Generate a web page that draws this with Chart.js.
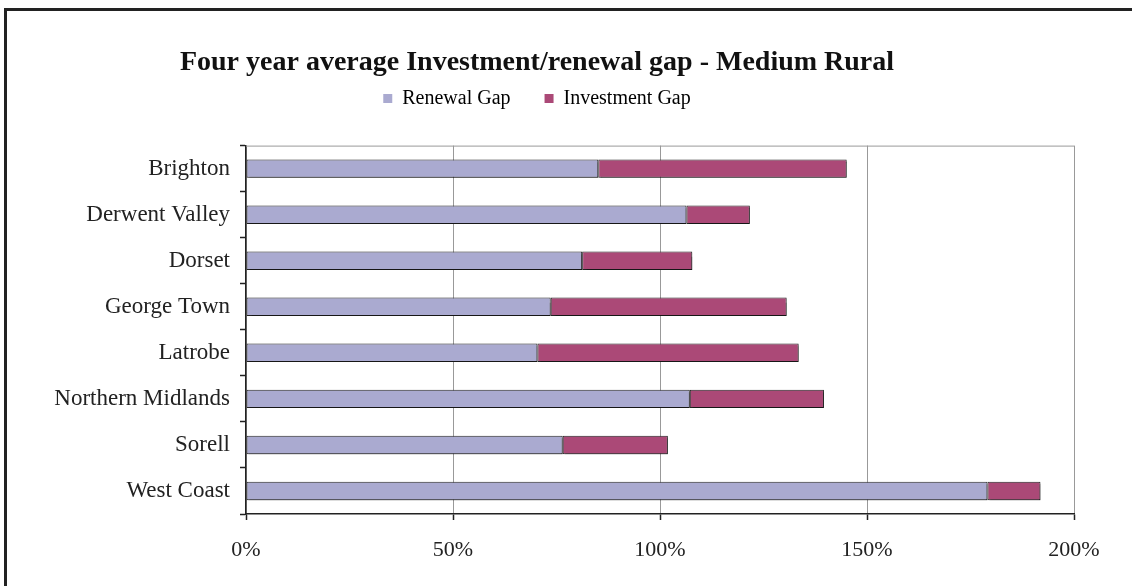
<!DOCTYPE html>
<html>
<head>
<meta charset="utf-8">
<script src="https://cdn.jsdelivr.net/npm/chart.js@4/dist/chart.umd.min.js"></script>
<style>
  html, body { margin: 0; padding: 0; background: #fff; overflow: hidden; }
  #frame { position: absolute; left: 4px; top: 8px; width: 1140px; height: 600px; border: 3px solid #222; box-sizing: border-box; }
  #wrap { position: absolute; left: 0; top: 0; width: 1132px; height: 586px; }
</style>
</head>
<body>
<div id="frame"></div>
<div id="wrap"><canvas id="gapChart"></canvas></div>
<script>
// councils, top to bottom
const councils = ['Brighton', 'Derwent Valley', 'Dorset', 'George Town', 'Latrobe', 'Northern Midlands', 'Sorell', 'West Coast'];
// four year averages, % of depreciation
const renewalGap = [85.1, 106.4, 81.2, 73.6, 70.4, 107.2, 76.5, 179.1];
const investmentGap = [60.0, 15.3, 26.6, 57.0, 63.1, 32.4, 25.4, 12.8];
const xTicks = [0, 50, 100, 150, 200];

const SERIF = '"Liberation Serif", "Times New Roman", serif';
const INK = '#222';

// grey top edge of the plot area + soft drop shadow under the bars
const plotDecor = {
  id: 'plotDecor',
  beforeInit(chart) {
    // leave a gap between the legend row and the plot
    const lg = chart.legend;
    if (lg) {
      const fit = lg.fit;
      lg.fit = function () { fit.call(this); this.height += 27; };
    }
  },
  beforeDatasetsDraw(chart) {
    const { ctx, chartArea: a } = chart;
    ctx.save();
    ctx.strokeStyle = '#999';
    ctx.lineWidth = 1;
    ctx.beginPath();
    ctx.moveTo(a.left, a.top + 0.5);
    ctx.lineTo(a.right, a.top + 0.5);
    ctx.stroke();
    ctx.restore();
    ctx.save();
    ctx.shadowColor = 'rgba(0,0,0,0.35)';
    ctx.shadowOffsetX = 2;
    ctx.shadowOffsetY = 2;
    ctx.shadowBlur = 1;
  },
  afterDatasetsDraw(chart) {
    chart.ctx.restore();
  }
};

new Chart(document.getElementById('gapChart'), {
  type: 'bar',
  data: {
    labels: councils,
    datasets: [
      { label: 'Renewal Gap', data: renewalGap, backgroundColor: '#AAAAD0', borderColor: INK, borderWidth: 1, borderSkipped: false },
      { label: 'Investment Gap', data: investmentGap, backgroundColor: '#AB4977', borderColor: INK, borderWidth: 1, borderSkipped: false }
    ]
  },
  options: {
    indexAxis: 'y',
    responsive: true,
    maintainAspectRatio: false,
    animation: false,
    barPercentage: 0.4,
    categoryPercentage: 1,
    layout: { padding: { top: 46, left: 0, right: 58, bottom: 0 } },
    plugins: {
      title: {
        display: true,
        text: 'Four year average Investment/renewal gap - Medium Rural',
        color: '#111',
        font: { family: SERIF, size: 28, weight: 'bold' },
        padding: { top: 0, bottom: -25 }
      },
      legend: {
        display: true,
        position: 'top',
        labels: {
          color: INK,
          font: { family: SERIF, size: 20 },
          boxWidth: 9,
          boxHeight: 9,
          padding: 34,
          generateLabels(chart) {
            return chart.data.datasets.map((d, i) => ({
              text: d.label,
              fillStyle: d.backgroundColor,
              strokeStyle: d.backgroundColor,
              lineWidth: 0,
              datasetIndex: i
            }));
          }
        }
      },
      tooltip: { enabled: false }
    },
    scales: {
      x: {
        stacked: true,
        min: 0,
        max: 200,
        afterBuildTicks(scale) { scale.ticks = xTicks.map(v => ({ value: v })); },
        afterFit(scale) { scale.height = 72; },
        ticks: {
          color: INK,
          font: { family: SERIF, size: 22 },
          padding: 17,
          callback: v => v + '%'
        },
        grid: { color: '#999', lineWidth: 1, tickLength: 6, tickColor: INK, tickWidth: 1.5 },
        border: { color: INK, width: 1.5 }
      },
      y: {
        stacked: true,
        afterFit(scale) { scale.width = 246; },
        ticks: {
          color: INK,
          font: { family: SERIF, size: 23 },
          padding: 10
        },
        grid: { drawOnChartArea: false, offset: true, tickLength: 6, tickColor: INK, tickWidth: 1.5 },
        border: { color: INK, width: 1.5 }
      }
    }
  },
  plugins: [plotDecor]
});
</script>
</body>
</html>
